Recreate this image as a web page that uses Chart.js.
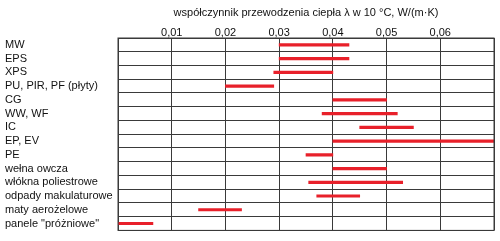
<!DOCTYPE html>
<html>
<head>
<meta charset="utf-8">
<script src="https://cdn.jsdelivr.net/npm/chart.js@4"></script>
<style>
  html,body{margin:0;padding:0;background:#fff;}
  #wrap{width:500px;height:241px;}
</style>
</head>
<body>
<div id="wrap"><canvas id="chart"></canvas></div>
<script>
// ================== DATA ==================
const materials = [
  "MW", "EPS", "XPS", "PU, PIR, PF (płyty)", "CG", "WW, WF", "IC", "EP, EV",
  "PE", "wełna owcza", "włókna poliestrowe", "odpady makulaturowe",
  "maty aerożelowe", "panele \"próżniowe\""
];
// lambda ranges, W/(m·K)
const lambdaMin = [0.030, 0.030, 0.029, 0.020, 0.040, 0.038, 0.045, 0.040, 0.035, 0.040, 0.0355, 0.037, 0.015, 0.000];
const lambdaMax = [0.043, 0.043, 0.040, 0.029, 0.050, 0.052, 0.055, 0.070, 0.040, 0.050, 0.053, 0.045, 0.023, 0.0065];
const tickValues = [0.01, 0.02, 0.03, 0.04, 0.05, 0.06];
const axisTitle = "współczynnik przewodzenia ciepła λ w 10 °C, W/(m·K)";

// ================== CHART ==================
const font = { family: "'Liberation Sans', Arial, sans-serif", size: 11 };
Chart.defaults.font = font;
Chart.defaults.color = "#111";

new Chart(document.getElementById("chart"), {
  type: "bar",
  data: {
    labels: materials,
    datasets: [{
      data: lambdaMin.map((v, i) => [v, lambdaMax[i]]),
      backgroundColor: "#e8202a",
      barThickness: 2.5
    }]
  },
  options: {
    indexAxis: "y",
    responsive: true,
    maintainAspectRatio: false,
    animation: false,
    layout: { padding: { left: 5, right: 6, top: 0, bottom: 5 } },
    plugins: { legend: { display: false }, tooltip: { enabled: false } },
    scales: {
      x: {
        type: "linear",
        position: "top",
        min: 0,
        max: 0.07,
        afterBuildTicks: s => { s.ticks = [0, ...tickValues, 0.07].map(v => ({ value: v })); },
        afterFit: s => { s.height = 38; },
        ticks: {
          padding: -2,
          autoSkip: false,
          maxRotation: 0,
          callback: v => tickValues.some(t => Math.abs(t - v) < 1e-9) ? v.toFixed(2).replace(".", ",") : ""
        },
        grid: { color: "#3a3a3a", lineWidth: 1, drawTicks: false },
        border: { color: "#3a3a3a" },
        title: { display: true, text: axisTitle, padding: { top: 6, bottom: 4 } }
      },
      y: {
        afterFit: s => { s.width = 113; },
        ticks: { crossAlign: "far", padding: 4, autoSkip: false, font: { size: 11 } },
        grid: { color: "#3a3a3a", lineWidth: 1, offset: true, drawTicks: false },
        border: { color: "#3a3a3a" }
      }
    }
  },
  plugins: [{
    // right and bottom frame
    id: "frame",
    afterDraw(c) {
      const a = c.chartArea, ctx = c.ctx;
      ctx.save();
      ctx.strokeStyle = "#3a3a3a";
      ctx.lineWidth = 1;
      ctx.strokeRect(a.left, a.top, a.right - a.left, a.bottom - a.top);
      ctx.restore();
    }
  }]
});
</script>
</body>
</html>
